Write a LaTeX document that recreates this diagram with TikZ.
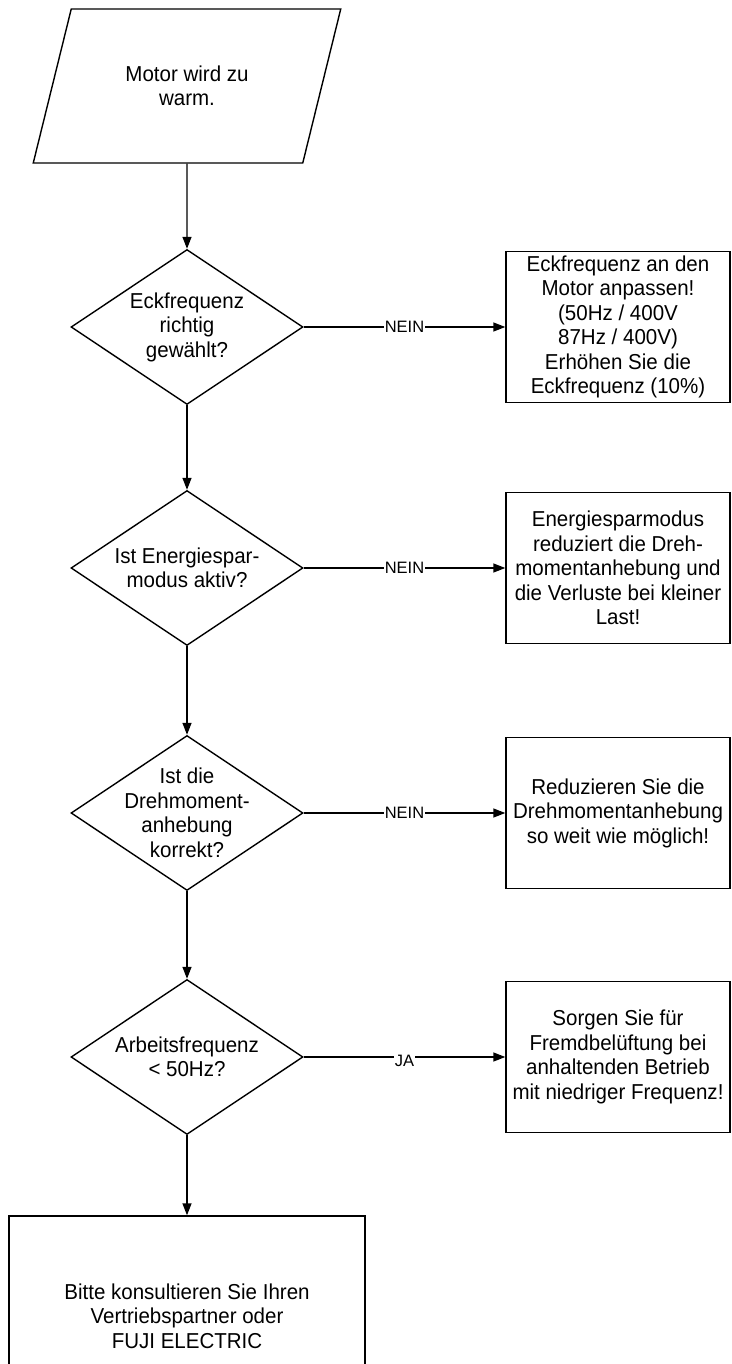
\documentclass[tikz,border=0pt]{standalone}
\usepackage{fontspec}
\setmainfont{Liberation Sans}[FakeStretch=0.95]
\newfontfamily\labelfont{Liberation Sans}
\usetikzlibrary{shapes.geometric,arrows.meta}
\begin{document}
\begin{tikzpicture}[x=1pt,y=-1pt,line width=1.4pt,
  every node/.style={font=\fontsize{21.6}{24.5}\selectfont},
  decision/.style={draw,shape=diamond,aspect=1.5,minimum width=232pt,minimum height=155pt,inner sep=0pt},
  action/.style={draw,rectangle,minimum width=224pt,minimum height=151pt,align=center,inner sep=0pt},
  flow/.style={-{Triangle[length=12pt,width=9pt]}},
  answer/.style={fill=white,font=\labelfont\fontsize{16.5}{18}\selectfont,inner sep=1pt}]
  \useasboundingbox (0,0) rectangle (731,1364);
  % Start
  \node[draw,trapezium,trapezium left angle=63.4,trapezium right angle=116.6,
    trapezium stretches=true,minimum width=308pt,minimum height=154pt,
    inner sep=0pt,align=center] (start) at (187,86) {Motor wird zu\\warm.};
  % Questions
  \node[decision,label={[align=center]center:Eckfrequenz\\richtig\\gewählt?}] (d1) at (187,327) {};
  \node[decision,label={[align=center]center:Ist Energiespar-\\modus aktiv?}] (d2) at (187,568) {};
  \node[decision,label={[align=center]center:Ist die\\Drehmoment-\\anhebung\\korrekt?}] (d3) at (187,813) {};
  \node[decision,label={[align=center]center:Arbeitsfrequenz\\< 50Hz?}] (d4) at (187,1057) {};
  % Actions
  \node[action] (b1) at (618,327) {Eckfrequenz an den\\Motor anpassen!\\(50Hz / 400V\\87Hz / 400V)\\Erhöhen Sie die\\Eckfrequenz (10\%)};
  \node[action] (b2) at (618,568) {Energiesparmodus\\reduziert die Dreh-\\momentanhebung und\\die Verluste bei kleiner\\Last!};
  \node[action] (b3) at (618,813) {Reduzieren Sie die\\Drehmomentanhebung\\so weit wie möglich!};
  \node[action] (b4) at (618,1057) {Sorgen Sie für\\Fremdbelüftung bei\\anhaltenden Betrieb\\mit niedriger Frequenz!};
  \node[action,minimum width=356pt,minimum height=200pt] (end) at (187,1316) {Bitte konsultieren Sie Ihren\\Vertriebspartner oder\\FUJI ELECTRIC};
  % Main line
  \draw[flow] (start.south) -- (d1.north);
  \draw[flow] (d1.south) -- (d2.north);
  \draw[flow] (d2.south) -- (d3.north);
  \draw[flow] (d3.south) -- (d4.north);
  \draw[flow] (d4.south) -- (end.north);
  % Branches
  \draw[flow] (d1.east) -- node[answer] {NEIN} (b1.west);
  \draw[flow] (d2.east) -- node[answer] {NEIN} (b2.west);
  \draw[flow] (d3.east) -- node[answer] {NEIN} (b3.west);
  \draw[flow] (d4.east) -- node[answer,yshift=-4pt] {JA} (b4.west);
\end{tikzpicture}
\end{document}
